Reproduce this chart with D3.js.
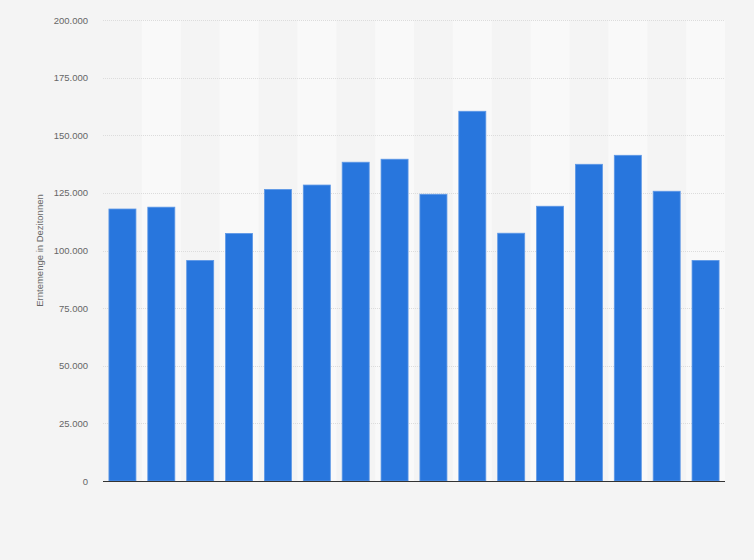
<!DOCTYPE html>
<html>
<head>
<meta charset="utf-8">
<script src="https://cdn.jsdelivr.net/npm/d3@7"></script>
<style>
  html, body { margin: 0; padding: 0; background: #f4f4f4; }
  svg { display: block; font-family: "Liberation Sans", Arial, sans-serif; }
</style>
</head>
<body>
<svg class="chart" width="754" height="560"></svg>
<script>
// one bar per year, the x labels are not shown in the original
const categories = d3.range(1, 17).map(i => `Jahr ${i}`);
const harvest = [118000, 118800, 95700, 107400, 126500, 128400, 138300, 139600,
                 124400, 160400, 107500, 119200, 137400, 141300, 125700, 95700];
const yTicks = [0, 25000, 50000, 75000, 100000, 125000, 150000, 175000, 200000];
const yTitle = "Erntemenge in Dezitonnen";

const width = 754;
const height = 560;
const margin = {top: 20, right: 29, bottom: 79, left: 103};

const svg = d3.select('svg.chart');

const x = d3.scaleBand()
    .domain(categories)
    .range([margin.left, width - margin.right])
    .paddingInner(0.305)
    .paddingOuter(0.1525);

const y = d3.scaleLinear()
    .domain([0, 200000])
    .range([height - margin.bottom, margin.top]);

const fmt = d3.formatLocale({decimal: ",", thousands: ".", grouping: [3], currency: ["", "€"]}).format(",d");

// alternating column shading
svg.append("g")
    .selectAll("rect")
    .data(categories.filter((d, i) => i % 2 === 1))
    .join("rect")
    .attr("x", d => x(d) - x.step() * x.paddingInner() / 2)
    .attr("y", y(200000))
    .attr("width", x.step())
    .attr("height", y(0) - y(200000))
    .attr("fill", "#f9f9f9");

// grid
svg.append("g")
    .attr("stroke", "#dcdcdc")
    .attr("stroke-dasharray", "1,1")
    .selectAll("line")
    .data(yTicks.filter(d => d > 0))
    .join("line")
    .attr("x1", margin.left)
    .attr("x2", width - margin.right)
    .attr("y1", d => Math.round(y(d)) + 0.5)
    .attr("y2", d => Math.round(y(d)) + 0.5);

// bars
svg.append("g")
    .selectAll("rect")
    .data(harvest)
    .join("rect")
    .attr("x", (d, i) => x(categories[i]))
    .attr("y", d => y(d))
    .attr("width", x.bandwidth())
    .attr("height", d => y(0) - y(d))
    .attr("fill", "#2876dd")
    .attr("stroke", "#5e98e6")
    .attr("stroke-width", 0.8);

// y axis labels
const yAxis = svg.append("g")
    .attr("transform", `translate(${margin.left},0)`)
    .call(d3.axisLeft(y).tickValues(yTicks).tickFormat(fmt).tickSize(0).tickPadding(15));
yAxis.select(".domain").remove();
yAxis.selectAll("text")
    .attr("fill", "#666")
    .attr("font-size", 9.5)
    .attr("font-family", "'Liberation Sans', Arial, sans-serif");

// baseline
svg.append("line")
    .attr("x1", margin.left)
    .attr("x2", width - margin.right)
    .attr("y1", y(0) + 0.5)
    .attr("y2", y(0) + 0.5)
    .attr("stroke", "#333")
    .attr("stroke-width", 1);

svg.append("text")
    .attr("transform", `translate(43,${(y(0) + y(200000)) / 2}) rotate(-90)`)
    .attr("text-anchor", "middle")
    .attr("fill", "#666")
    .attr("font-size", 9.5)
    .text(yTitle);
</script>
</body>
</html>
